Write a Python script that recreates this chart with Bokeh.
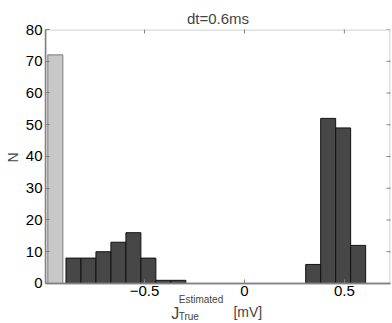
import math
from bokeh.plotting import figure
from bokeh.models import LinearAxis, FixedTicker, Label, Range1d, BoxAnnotation, Title
from bokeh.embed import file_html
from bokeh.resources import INLINE

# data
title_text = "dt=0.6ms"
y_label_text = "N"
undetected_center = [-0.947]
undetected_count = [72]
bin_centers = [-0.856, -0.781, -0.706, -0.631, -0.556, -0.481, -0.406, -0.331,
               0.344, 0.419, 0.494, 0.569]
bin_counts = [8, 8, 10, 13, 16, 8, 1, 1, 6, 52, 49, 12]
bin_width = 0.075
x_min, x_max = -0.996, 0.731
y_min, y_max = 0, 80
y_view_min = -12.6          # room under the axes box for the x label
x_ticks = [-0.5, 0, 0.5]
x_tick_labels = {-0.5: "\u22120.5", 0: "0", 0.5: "0.5"}
y_ticks = [0, 10, 20, 30, 40, 50, 60, 70, 80]

FONT = "Liberation Sans"
AX = "#808080"

p = figure(width=392, height=323, output_backend="svg", toolbar_location=None,
           x_range=Range1d(x_min, x_max), y_range=Range1d(y_view_min, y_max),
           min_border_left=44, min_border_right=2, min_border_top=29, min_border_bottom=0,
           x_axis_location=None, y_axis_location=None)
p.title.text = title_text
p.title.align = "center"
p.title.text_font = FONT
p.title.text_font_size = "15px"
p.title.text_font_style = "normal"
p.title.standoff = 5
p.title.offset = 0
p.outline_line_color = None
p.grid.visible = False
p.background_fill_color = "white"
p.border_fill_color = "white"

p.vbar(x=undetected_center, top=undetected_count, width=bin_width, bottom=y_min,
       fill_color="#c8c8c8", line_color="#8a8a8a", line_width=1.2)
p.vbar(x=bin_centers, top=bin_counts, width=bin_width, bottom=y_min,
       fill_color="#474747", line_color="#111111", line_width=1)

# axes box (from y = 0 up to the top of the frame)
p.add_layout(BoxAnnotation(bottom=y_min, fill_color=None, fill_alpha=0,
                           line_color=AX, line_width=2.5))

# mirrored inside ticks on top and right edges
p.scatter(x=x_ticks, y=[y_max] * len(x_ticks), marker="dash", angle=math.pi / 2,
          size=8, line_color=AX, line_width=1)
p.scatter(x=[x_max] * len(y_ticks), y=y_ticks, marker="dash",
          size=8, line_color=AX, line_width=1)

def style(ax):
    ax.axis_line_color = AX
    ax.axis_line_width = 1.5
    ax.major_tick_line_color = AX
    ax.major_tick_in = 4
    ax.major_tick_out = 0
    ax.minor_tick_line_color = None
    ax.major_label_text_font = FONT
    ax.major_label_text_font_size = "15px"
    ax.major_label_text_color = "black"

xb = LinearAxis(ticker=FixedTicker(ticks=x_ticks), major_label_overrides=x_tick_labels,
                fixed_location=y_min)
style(xb)
xb.major_label_standoff = 3
p.add_layout(xb, "below")

yl = LinearAxis(ticker=FixedTicker(ticks=y_ticks), bounds=(y_min, y_max))
style(yl)
yl.major_label_standoff = 3
p.add_layout(yl, "left")

# y label, placed beside the axes box
p.add_layout(Title(text=y_label_text, align="left", offset=161, standoff=4,
                   vertical_align="bottom",
                   text_font=FONT, text_font_size="14px", text_font_style="normal"), "left")

# x label: J with super/subscripts and unit
p.add_layout(Label(x=-0.367, y=-9.4, text="J", text_font=FONT, text_font_size="16px",
                   text_baseline="alphabetic", text_align="left"))
p.add_layout(Label(x=-0.329, y=-4.9, text="Estimated", text_font=FONT, text_font_size="10px",
                   text_baseline="alphabetic", text_align="left"))
p.add_layout(Label(x=-0.329, y=-10.4, text="True", text_font=FONT, text_font_size="10px",
                   text_baseline="alphabetic", text_align="left"))
p.add_layout(Label(x=-0.055, y=-9.1, text="[mV]", text_font=FONT, text_font_size="14px",
                   text_baseline="alphabetic", text_align="left"))

open("out.html", "w").write(file_html(p, INLINE))
